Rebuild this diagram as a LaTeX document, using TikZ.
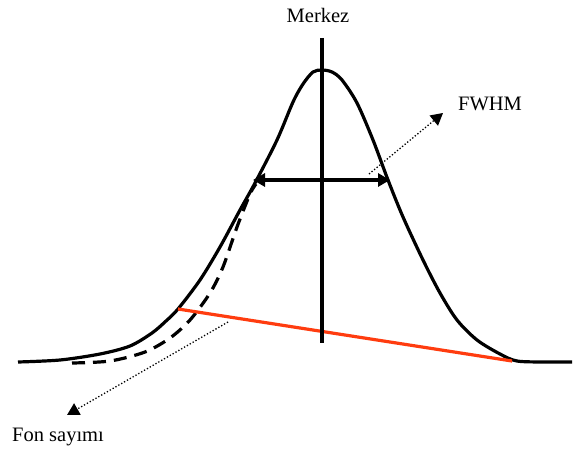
\documentclass[tikz,border=0pt]{standalone}
\usepackage{fontspec}
\setmainfont{Liberation Serif}
\usetikzlibrary{arrows.meta}
\definecolor{bgred}{RGB}{255,60,15}

\begin{document}
\begin{tikzpicture}[x=1pt, y=-1pt, >={Triangle[length=12pt,width=13pt]}, line width=3.2pt]
    \useasboundingbox (0,0) rectangle (577,452);
    \tikzset{lbl/.style={font=\fontsize{20.5}{24}\selectfont}}

    % Peak
    \draw[line join=round] plot[smooth, tension=0.5] coordinates {
        (18,362) (60,360) (100,354) (130,346) (152,333) (166,321) (178,309)
        (200,280) (220,247) (240,210) (255,183) (277,140) (293,102) (303,84)
        (313,72) (322,70) (332,72) (342,80) (357,103) (373,140) (388,180)
        (403,217) (423,260) (440,293) (457,320) (477,340) (500,354) (517,361)
        (545,362) (572,362)};

    % Background tail (dashed)
    \draw[dashed, dash pattern=on 13pt off 8pt] plot[smooth, tension=0.5] coordinates {
        (72,363) (110,361) (145,352) (170,338) (190,320) (210,293) (223,267)
        (237,227) (250,194) (256,184)};

    % Background line
    \coordinate (B1) at (178,309);
    \coordinate (B2) at (512,361);
    \draw[bgred] (B1) -- (B2);

    % Centre line
    \coordinate (C1) at (322,38);
    \coordinate (C2) at (322,343);
    \draw (C1) -- (C2);
    \node[lbl] (merkez) at (318,15) {Merkez};

    % Width at half maximum
    \coordinate (W1) at (253,180);
    \coordinate (W2) at (390,180);
    \draw[<->] (W1) -- (W2);

    % Labels with dotted pointers
    \node[lbl] (fwhm) at (490,104) {FWHM};
    \coordinate (F1) at (369,174);
    \coordinate (F2) at (443,113);
    \draw[->, dotted, line width=1.3pt] (F1) -- (F2);

    \node[lbl] (fon) at (58,437) {Fon sayımı};
    \coordinate (S1) at (228,322);
    \coordinate (S2) at (67,415);
    \draw[->, dotted, line width=1.3pt] (S1) -- (S2);
\end{tikzpicture}
\end{document}
